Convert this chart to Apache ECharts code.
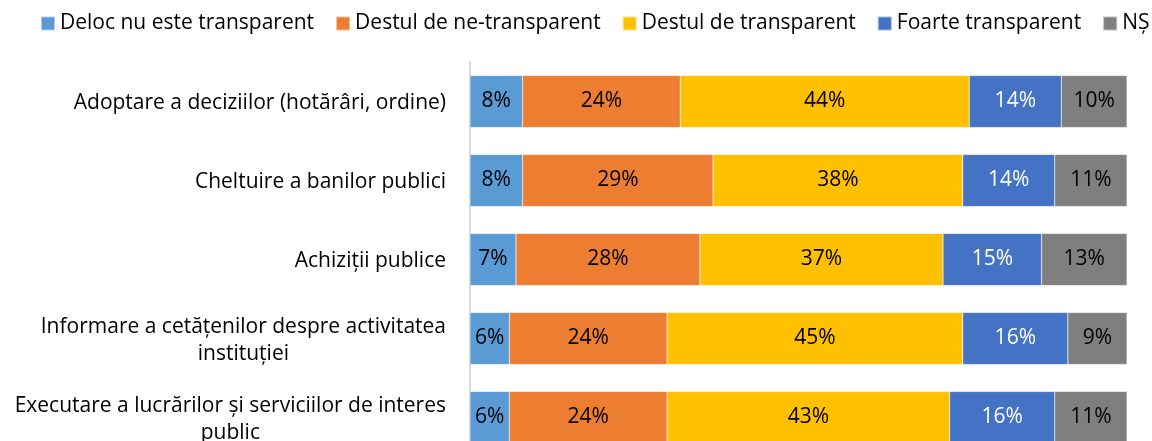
<!DOCTYPE html>
<html>
<head>
<meta charset="utf-8">
<script src="https://cdn.jsdelivr.net/npm/echarts@6/dist/echarts.min.js"></script>
<style>
  html, body { margin: 0; padding: 0; background: #fff; overflow: hidden; }
  #chart { width: 1152px; height: 460px; }
</style>
</head>
<body>
<div id="chart"></div>
<script>
// Percepția transparenței: distribuția răspunsurilor pe domenii (%)
const categories = [
  'Adoptare a deciziilor (hotărâri, ordine)',
  'Cheltuire a banilor publici',
  'Achiziții publice',
  'Informare a cetățenilor despre activitatea\ninstituției',
  'Executare a lucrărilor și serviciilor de interes\npublic'
];

const seriesNames = [
  'Deloc nu este transparent',
  'Destul de ne-transparent',
  'Destul de transparent',
  'Foarte transparent',
  'NȘ'
];

const delocNu      = [8, 8, 7, 6, 6];
const destulNe     = [24, 29, 28, 24, 24];
const destulDe     = [44, 38, 37, 45, 43];
const foarte       = [14, 14, 15, 16, 16];
const nuStiu       = [10, 11, 13, 9, 11];

const values = [delocNu, destulNe, destulDe, foarte, nuStiu];
const colors = ['#5B9BD5', '#ED7D31', '#FFC000', '#4472C4', '#7F7F7F'];
const labelColors = ['#000', '#000', '#000', '#fff', '#000'];

const FONT = '"Open Sans", sans-serif';
const FS = 21;

const chart = echarts.init(document.getElementById('chart'), null, { renderer: 'canvas' });

chart.setOption({
  animation: false,
  color: colors,
  textStyle: { fontFamily: FONT },
  legend: {
    top: 13,
    left: 40,
    width: 1112,
    padding: 0,
    itemWidth: 14,
    itemHeight: 14,
    itemGap: 21,
    icon: 'rect',
    textStyle: { fontSize: FS, color: '#000', fontFamily: FONT },
    data: seriesNames
  },
  grid: {
    left: 470,
    right: 25,
    top: 62,
    bottom: 3,
    containLabel: false
  },
  xAxis: {
    type: 'value',
    min: 0,
    max: 100,
    show: false
  },
  yAxis: {
    type: 'category',
    inverse: true,
    data: categories,
    axisLine: { show: true, lineStyle: { color: '#D9D9D9', width: 2 } },
    axisTick: { show: false },
    axisLabel: {
      margin: 24,
      align: 'right',
      color: '#000',
      fontSize: FS,
      lineHeight: 27,
      fontFamily: FONT,
      // wrapped lines are centred on each other, the block sits right-aligned
      formatter: v => v.split('\n').map(s => '{c|' + s + '}').join('\n'),
      rich: {
        c: { align: 'center', fontSize: FS, lineHeight: 27, color: '#000', fontFamily: FONT, padding: [4, 0, 0, 0] }
      }
    }
  },
  series: seriesNames.map((name, i) => ({
    name,
    type: 'bar',
    stack: 'total',
    barWidth: '66%',
    data: values[i],
    itemStyle: { color: colors[i], borderColor: 'rgba(255,255,255,0.5)', borderWidth: 0.5 },
    label: {
      show: true,
      position: 'inside',
      formatter: p => p.value + '%',
      color: labelColors[i],
      fontSize: FS,
      fontFamily: FONT
    }
  }))
});
</script>
</body>
</html>
